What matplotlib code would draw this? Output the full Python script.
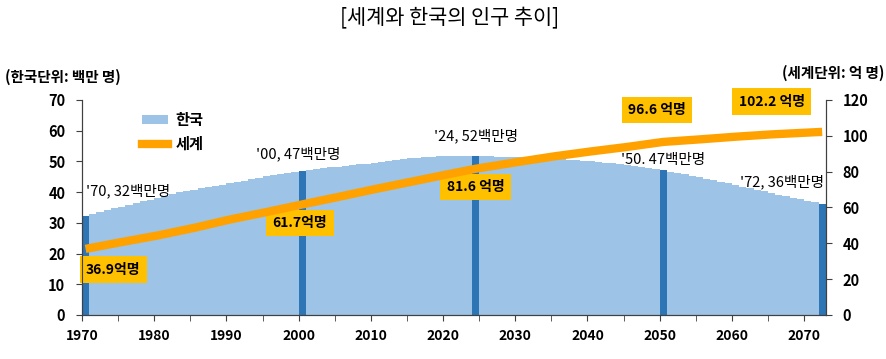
import numpy as np
import matplotlib.pyplot as plt
from matplotlib.patches import Patch
from matplotlib.lines import Line2D

plt.rcParams['font.family'] = ['Noto Sans CJK KR', 'DejaVu Sans']

# Korea population (millions), yearly 1970-2072
years = list(range(1970, 2073))
korea = [32.24, 32.88, 33.51, 34.10, 34.69, 35.28, 35.85, 36.41, 36.97, 37.53,
         38.12, 38.72, 39.33, 39.91, 40.41, 40.81, 41.21, 41.62, 42.03, 42.45,
         42.87, 43.30, 43.75, 44.19, 44.64, 45.09, 45.53, 45.95, 46.29, 46.62,
         47.01, 47.36, 47.62, 47.86, 48.04, 48.18, 48.44, 48.68, 49.05, 49.31,
         49.55, 49.94, 50.20, 50.43, 50.75, 51.01, 51.22, 51.36, 51.59, 51.76,
         51.84, 51.77, 51.67, 51.71, 51.75, 51.68, 51.62, 51.56, 51.49, 51.41,
         51.31, 51.24, 51.17, 51.08, 50.98, 50.87, 50.74, 50.59, 50.43, 50.25,
         50.06, 49.84, 49.61, 49.36, 49.07, 48.75, 48.45, 48.12, 47.80, 47.46,
         47.11, 46.67, 46.22, 45.76, 45.30, 44.83, 44.35, 43.86, 43.35, 42.83,
         42.30, 41.79, 41.28, 40.75, 40.22, 39.69, 39.18, 38.67, 38.17, 37.67,
         37.18, 36.70, 36.22]
highlight_years = [1970, 2000, 2024, 2050, 2072]

# World population (hundred millions)
world_years = [1970, 1975, 1980, 1985, 1990, 1995, 2000, 2005, 2010, 2015, 2020,
               2024, 2030, 2035, 2040, 2045, 2050, 2055, 2060, 2065, 2070, 2072]
world = [36.9, 40.7, 44.4, 48.6, 53.3, 57.4, 61.7, 65.9, 70.2, 74.3, 78.4,
         81.6, 85.5, 88.6, 91.3, 93.8, 96.6, 98.0, 99.5, 100.8, 101.8, 102.2]

korea_labels = ["'70, 32백만명", "'00, 47백만명", "'24, 52백만명", "'50. 47백만명", "'72, 36백만명"]
world_labels = ["36.9억명", "61.7억명", "81.6 억명", "96.6 억명", "102.2 억명"]

light = '#9dc3e6'
dark = '#2e75b6'
orange = '#ffa200'
box = '#ffc000'

fig = plt.figure(figsize=(8.87, 3.59), dpi=100)
ax = fig.add_axes([0.0924, 0.1226, 0.8386, 0.5989])
ax2 = ax.twinx()

colors = [dark if y in highlight_years else light for y in years]
ax.bar(years, korea, width=1.0, align='edge', color=colors, linewidth=0)
ax.set_xlim(1970, 2073)
ax.set_ylim(0, 70)
ax.set_yticks(range(0, 71, 10))
ax.set_xticks(range(1970, 2071, 10))
ax.set_xticks(range(1970, 2073, 5), minor=True)

ax2.plot([y + 0.5 for y in world_years], world, color=orange, lw=6, solid_capstyle='butt')
ax2.set_ylim(0, 120)
ax2.set_yticks(range(0, 121, 20))

for a in (ax, ax2):
    a.spines['top'].set_visible(False)
    for s in a.spines.values():
        s.set_color('#404040')
    a.tick_params(labelsize=10.5, colors='#000000', length=4, color='#404040')
    for t in a.get_yticklabels() + a.get_xticklabels():
        t.set_fontweight('bold')
ax.tick_params(axis='x', which='both', labelsize=10, length=4, color='#404040', pad=6)
ax.tick_params(axis='y', pad=8)
ax2.tick_params(axis='y', pad=8)

# Korea annotations
kpos = [(1970.5, 40.5, 'left'), (2000, 52.5, 'center'), (2024.5, 58.3, 'center'),
        (2050.5, 50.5, 'center'), (2072.8, 43.3, 'right')]
for (x, y, ha), txt in zip(kpos, korea_labels):
    ax.text(x, y, txt, ha=ha, va='center', fontsize=10.5, fontweight='medium')

# World annotations
wpos = [(1974.3, 14.8), (2000.2, 30.0), (2024.5, 41.7), (2049.6, 66.8), (2065.5, 69.5)]
for (x, y), txt in zip(wpos, world_labels):
    ax.text(x, y, txt, ha='center', va='center', fontsize=10, fontweight='bold',
            bbox=dict(boxstyle='square,pad=0.45', fc=box, ec='none'))

handles = [Patch(facecolor=light, edgecolor='none'),
           Line2D([0], [0], color=orange, lw=6)]
ax.legend(handles, ['한국', '세계'], loc='upper left', bbox_to_anchor=(0.062, 1.01),
          frameon=False, prop={'size': 11, 'weight': 'bold'}, handlelength=1.7,
          handleheight=0.5, labelspacing=0.55, handletextpad=0.5)

fig.text(0.507, 0.952, '[세계와 한국의 인구 추이]', ha='center', va='center', fontsize=15)
fig.text(0.006, 0.787, '(한국단위: 백만 명)', ha='left', va='center', fontsize=10.5, fontweight='bold')
fig.text(0.997, 0.798, '(세계단위: 억 명)', ha='right', va='center', fontsize=10.5, fontweight='bold')

fig.savefig('out.png', dpi=100)
